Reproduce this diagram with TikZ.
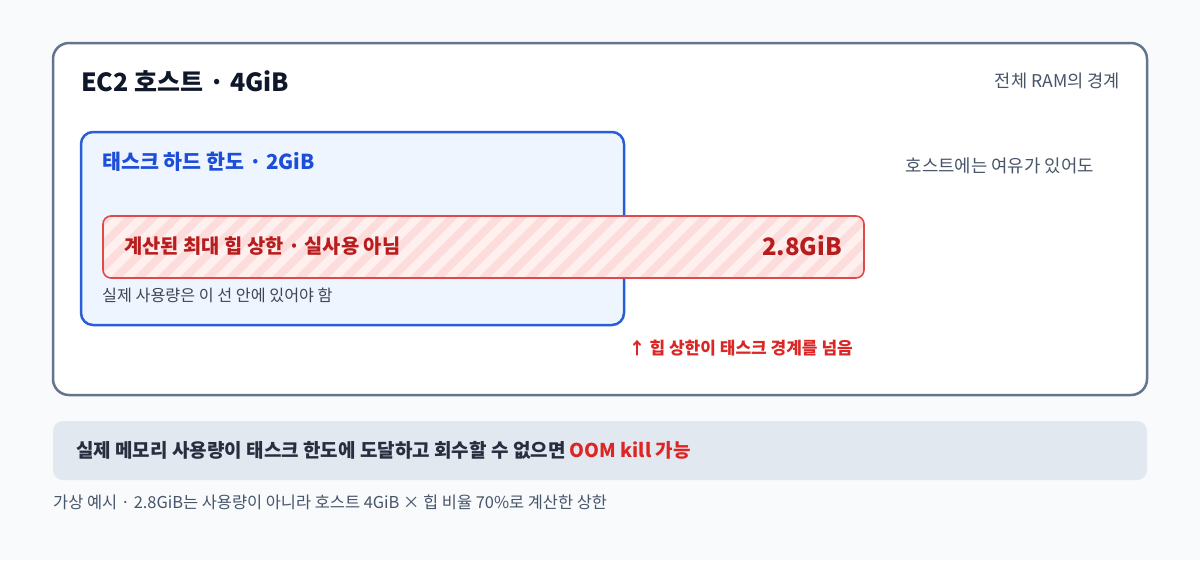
\documentclass[tikz,border=0pt]{standalone}
\usepackage{fontspec}
\setmainfont{Noto Sans CJK KR}
\usepackage{xcolor}
\usetikzlibrary{positioning}
\definecolor{pagebg}{HTML}{F8FAFC}
\definecolor{hostline}{HTML}{64748B}
\definecolor{taskline}{HTML}{2A5DD8}
\definecolor{taskfill}{HTML}{EEF5FF}
\definecolor{tasktext}{HTML}{1D4ED8}
\definecolor{barline}{HTML}{DE4A4A}
\definecolor{barlight}{HTML}{FFF0F0}
\definecolor{bardark}{HTML}{FDDCDC}
\definecolor{bartext}{HTML}{B91C1C}
\definecolor{warnred}{HTML}{DC2626}
\definecolor{panelfill}{HTML}{E2E8F0}
\definecolor{inktext}{HTML}{0F172A}
\definecolor{greytext}{HTML}{475569}
\newcommand{\fs}[1]{\fontsize{#1}{#1}\selectfont}

\begin{document}
\begin{tikzpicture}[x=1pt, y=-1pt,
    lbl/.style={inner sep=0pt, anchor=west},
    rlbl/.style={inner sep=0pt, anchor=east}]
    \useasboundingbox[fill=pagebg] (0,0) rectangle (1200,560);

    % 호스트 / 태스크 상자
    \draw[hostline, line width=2.5pt, fill=white, rounded corners=16pt]
        (53,43) rectangle (1147,395);
    \draw[taskline, line width=2.5pt, fill=taskfill, rounded corners=12pt]
        (81,132) rectangle (624,325);

    % 힙 상한 막대 (줄무늬)
    \begin{scope}
        \clip[rounded corners=8pt] (103,216) rectangle (864,278);
        \fill[barlight] (103,216) rectangle (864,278);
        \foreach \s in {39,62,...,870} {
            \fill[bardark] (\s,280) -- (\s+11,280) -- (\s+75,216) -- (\s+64,216) -- cycle;
        }
    \end{scope}
    \draw[barline, line width=1.6pt, rounded corners=8pt] (103,216) rectangle (864,278);

    % 글자
    \node[lbl, font=\fs{25}\bfseries, text=inktext] (host) at (81,81) {EC2 호스트 · 4GiB};
    \node[rlbl, font=\fs{17.6}, text=greytext] (ram) at (1120,81) {전체 RAM의 경계};
    \node[lbl, font=\fs{20.6}\bfseries, text=tasktext] (task) at (102,162) {태스크 하드 한도 · 2GiB};
    \node[rlbl, font=\fs{17.8}, text=greytext] (room) at (1094,166) {호스트에는 여유가 있어도};
    \node[lbl, font=\fs{19.8}\bfseries, text=bartext] (heap) at (124,246) {계산된 최대 힙 상한 · 실사용 아님};
    \node[rlbl, font=\fs{24}\bfseries, text=bartext] (size) at (842,246) {2.8GiB};
    \node[lbl, font=\fs{16.2}, text=inktext!80] (inside) at (102,295) {실제 사용량은 이 선 안에 있어야 함};
    \node[rlbl, font=\fs{17}\bfseries, text=warnred] (over) at (853,348) {↑ 힙 상한이 태스크 경계를 넘음};

    % 아래 안내
    \fill[panelfill, rounded corners=10pt] (53,421) rectangle (1147,480);
    \node[lbl, font=\fs{19}\bfseries, text=inktext!90] (oom) at (76,450)
        {실제 메모리 사용량이 태스크 한도에 도달하고 회수할 수 없으면 \textcolor{warnred}{OOM kill 가능}};
    \node[lbl, font=\fs{16.4}, text=greytext] (note) at (53,502)
        {가상 예시 · 2.8GiB는 사용량이 아니라 호스트 4GiB × 힙 비율 70\%로 계산한 상한};
\end{tikzpicture}
\end{document}
